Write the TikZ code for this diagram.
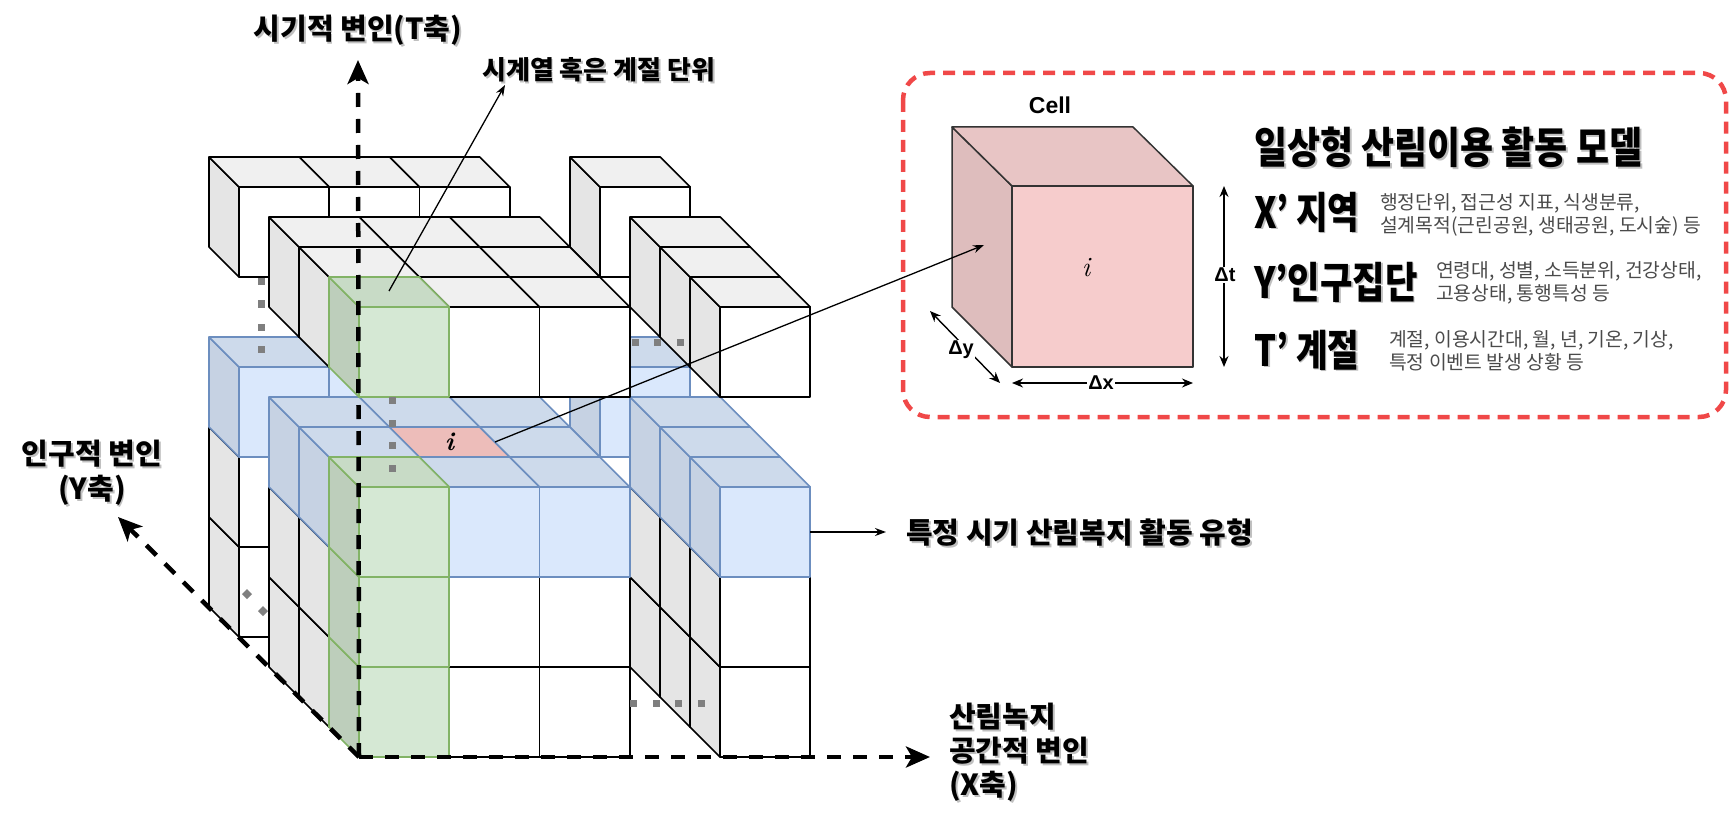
\documentclass[tikz,border=0pt]{standalone}
\usepackage{fontspec}
\usetikzlibrary{arrows.meta}
\newfontfamily\kr{Noto Sans CJK KR}
\newfontfamily\ar{Liberation Sans}
\definecolor{wtop}{HTML}{F0F0F0}
\definecolor{wleft}{HTML}{E5E5E5}
\definecolor{bfront}{HTML}{DAE8FC}
\definecolor{btop}{HTML}{CDDAEB}
\definecolor{bleft}{HTML}{C6D2E3}
\definecolor{bstroke}{HTML}{6C8EBF}
\definecolor{gfront}{HTML}{D5E8D4}
\definecolor{gtop}{HTML}{C8DBC6}
\definecolor{gleft}{HTML}{BDCEBB}
\definecolor{gstroke}{HTML}{82B366}
\definecolor{pinkc}{HTML}{EDBDBA}
\definecolor{dotc}{HTML}{7F7F7F}
\definecolor{boxred}{HTML}{F04848}
\definecolor{cfront}{HTML}{F6CCCC}
\definecolor{ctop}{HTML}{E8C5C5}
\definecolor{cleft}{HTML}{DEBDBD}
\definecolor{desc}{HTML}{4A4A4A}
\newcommand\cellbox[4]{%
  \filldraw[#4 side] (#1,#2,#3) -- ++(0,1,0) -- ++(0,0,1) -- ++(0,-1,0) -- cycle;
  \filldraw[#4 top] (#1,#2,#3+1) -- ++(1,0,0) -- ++(0,1,0) -- ++(-1,0,0) -- cycle;
  \filldraw[#4 front] (#1,#2,#3) -- ++(1,0,0) -- ++(0,0,1) -- ++(-1,0,0) -- cycle;
}
\newcommand\shtext[4]{%
  \node[#3, text=black!45, opacity=0.55] (#1s) at ([shift={(1.8,1.8)}]#2) {#4};
  \node[#3] (#1) at (#2) {#4};
}
\begin{document}
\begin{tikzpicture}[x=1pt,y=-1pt,
  line join=round,
  w front/.style={fill=white,draw=black},
  w top/.style={fill=wtop,draw=black},
  w side/.style={fill=wleft,draw=black},
  b front/.style={fill=bfront,draw=bstroke},
  b top/.style={fill=btop,draw=bstroke},
  b side/.style={fill=bleft,draw=bstroke},
  g front/.style={fill=gfront,draw=gstroke},
  g top/.style={fill=gtop,draw=gstroke},
  g side/.style={fill=gleft,draw=gstroke},
  p top/.style={fill=pinkc,draw=bstroke},
  axis/.style={line width=4.5pt, dash pattern=on 14pt off 12pt, -{Stealth[length=24pt,width=21pt,inset=6pt]}},
  thinarrow/.style={line width=1.3pt, -{Stealth[length=11pt,width=8pt]}},
  darrow/.style={line width=1.4pt, {Stealth[length=11pt,width=9pt]}-{Stealth[length=11pt,width=9pt]}},
  lbl/.style={font=\kr\bfseries\fontsize{29}{33}\selectfont, inner sep=0pt},
  hdr/.style={font=\kr\bfseries\fontsize{43}{46}\selectfont, inner sep=0pt, anchor=west},
  dsc/.style={font=\kr\fontsize{19.3}{23}\selectfont, text=desc, inner sep=0pt, anchor=west, align=left},
  dlab/.style={font=\ar\bfseries\fontsize{20}{22}\selectfont, fill=white, inner sep=1.5pt},
]
\useasboundingbox (0,0) rectangle (1729,826);

% ---------------- exploded data cube ----------------
\begin{scope}[shift={(359,757)}, x={(90.25pt,0pt)}, y={(-30pt,30pt)}, z={(0pt,90pt)}, line width=1.6pt]
\foreach \yy in {4,2,1,0}{
  \foreach \zz in {0,1,2,4}{
    \foreach \xx in {4,2,1,0}{
      \def\kind{w}
      \ifnum\zz=2 \def\kind{b}\fi
      \ifnum\xx=0 \ifnum\yy=0 \def\kind{g}\fi\fi
      \cellbox{\xx}{\yy}{\zz}{\kind}
      \ifnum\xx=1 \ifnum\yy=1 \ifnum\zz=2
        \filldraw[p top] (1,1,3) -- (2,1,3) -- (2,2,3) -- (1,2,3) -- cycle;
      \fi\fi\fi
    }
  }
}
\node[font=\bfseries\itshape\fontsize{26}{26}\selectfont, inner sep=0pt] (ilbl) at (1.5,1.5,3) {i};
\end{scope}

% ellipsis dots
\foreach \p/\q in {261/282,261/304,261/327,261/349,392/400,392/423,392/445,392/468,635/342,657/342,680/342,633/703,656/703,678/703,701/703}{
  \fill[dotc] (\p-3.5,\q-3.5) rectangle ++(7,7);
}
\foreach \p/\q in {247/594,263/611}{
  \fill[dotc] (\p,\q-5) -- (\p+5,\q) -- (\p,\q+5) -- (\p-5,\q) -- cycle;
}

% axes
\coordinate (O) at (359,757);
\coordinate (Ttip) at (358,60);
\coordinate (Xtip) at (930,757);
\coordinate (Ytip) at (118,517);
\draw[axis] (O) -- (Ttip);
\draw[axis] (O) -- (Xtip);
\draw[axis] (O) -- (Ytip);

% axis labels
\shtext{tlab}{358,30}{lbl}{시기적 변인(T축)}
\shtext{ylab}{92,473}{lbl, align=center}{인구적 변인\\[2pt](Y축)}
\shtext{xlab}{949,752}{lbl, anchor=west, align=left}{산림녹지\\[1pt]공간적 변인\\[1pt](X축)}
\shtext{slab}{482,70}{lbl, anchor=west, font=\kr\bfseries\fontsize{26}{30}\selectfont}{시계열 혹은 계절 단위}
\shtext{flab}{906,533}{lbl, anchor=west}{특정 시기 산림복지 활동 유형}

% pointer lines
\coordinate (gpt) at (389,291);
\coordinate (gtip) at (505,85);
\draw[thinarrow] (gpt) -- (gtip);
\coordinate (fstart) at (810,532);
\coordinate (ftip) at (886,532);
\draw[thinarrow] (fstart) -- (ftip);
\coordinate (pinkR) at (495,442);
\coordinate (celltip) at (984,245);

% ---------------- red box ----------------
\draw[boxred, line width=4.5pt, dash pattern=on 12pt off 8pt, rounded corners=27pt] (903,73) rectangle (1726,417);

% big cell
\coordinate (cA) at (1012,186);
\coordinate (cB) at (1193,186);
\coordinate (cC) at (1193,367);
\coordinate (cD) at (1012,367);
\coordinate (cE) at (952,127);
\coordinate (cF) at (1133,127);
\coordinate (cG) at (952,307);
\filldraw[fill=cleft, draw=black!80, line width=1.5pt] (cA) -- (cE) -- (cG) -- (cD) -- cycle;
\filldraw[fill=ctop, draw=black!80, line width=1.5pt] (cA) -- (cE) -- (cF) -- (cB) -- cycle;
\filldraw[fill=cfront, draw=black!80, line width=1.5pt] (cA) -- (cB) -- (cC) -- (cD) -- cycle;
\node[font=\itshape\fontsize{28}{28}\selectfont, inner sep=0pt] (bigi) at (1086,268) {i};
\node[font=\ar\bfseries\fontsize{23}{25}\selectfont, inner sep=0pt] (celllab) at (1050,105) {Cell};
\draw[thinarrow] (pinkR) -- (celltip);

% dimension arrows
\coordinate (dtA) at (1224,186);
\coordinate (dtB) at (1224,367);
\draw[darrow] (dtA) -- (dtB);
\node[dlab] (dtl) at (1225,275) {Δt};
\coordinate (dxA) at (1012,383);
\coordinate (dxB) at (1193,383);
\draw[darrow] (dxA) -- (dxB);
\node[dlab] (dxl) at (1101,383) {Δx};
\coordinate (dyA) at (930,311);
\coordinate (dyB) at (1000,383);
\draw[darrow] (dyA) -- (dyB);
\node[dlab] (dyl) at (961,350) {Δy};

% right text block
\shtext{title}{1254,147}{hdr}{\scalebox{0.835}[1]{일상형 산림이용 활동 모델}}
\shtext{hx}{1254,212}{hdr}{\scalebox{0.8}[1]{X’ 지역}}
\shtext{hy}{1254,282}{hdr}{\scalebox{0.82}[1]{Y’인구집단}}
\shtext{ht}{1254,350}{hdr}{\scalebox{0.8}[1]{T’ 계절}}
\node[dsc] (dx) at (1380,215) {행정단위, 접근성 지표, 식생분류,\\설계목적(근린공원, 생태공원, 도시숲) 등};
\node[dsc] (dy) at (1436,282.5) {연령대, 성별, 소득분위, 건강상태,\\고용상태, 통행특성 등};
\node[dsc] (dt) at (1389,351) {계절, 이용시간대, 월, 년, 기온, 기상,\\특정 이벤트 발생 상황 등};
\end{tikzpicture}
\end{document}
